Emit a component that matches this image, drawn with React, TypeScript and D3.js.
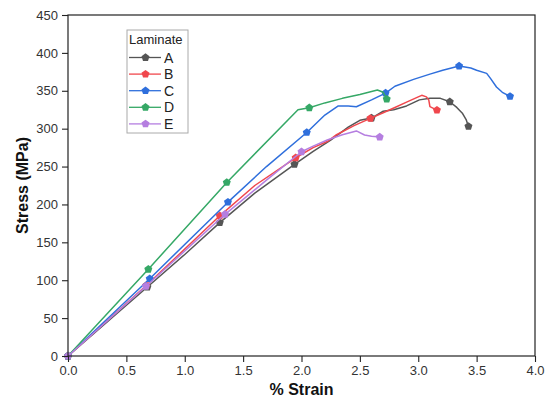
import React, { useEffect, useRef } from 'react';
import * as d3 from 'd3';

// strain (%) and stress (MPa), one pair of arrays per laminate
const strainA = [0, 0.68, 1.0, 1.3, 1.6, 1.94, 2.1, 2.25, 2.4, 2.5, 2.6, 2.7, 2.79, 2.9, 3.01, 3.1, 3.19, 3.27, 3.33, 3.38, 3.41, 3.43];
const stressA = [0, 91, 134, 176, 215, 253, 270, 285, 302, 311, 314, 323, 325, 330, 338, 340, 340, 335.5, 328, 320, 312, 303];
const markA = [0, 1, 3, 5, 10, 17, 21];

const strainB = [0, 0.67, 1.3, 1.6, 1.95, 2.1, 2.22, 2.3, 2.45, 2.59, 2.7, 2.8, 2.9, 3.0, 3.03, 3.07, 3.09, 3.1, 3.16];
const stressB = [0, 93, 185, 225, 261.6, 275, 283, 292, 304, 313.6, 321, 328, 335, 342, 344, 342, 338, 329, 324.5];
const markB = [0, 1, 2, 4, 9, 18];

const strainC = [0, 0.7, 1.37, 1.7, 2.045, 2.2, 2.315, 2.4, 2.47, 2.6, 2.72, 2.8, 2.96, 3.1, 3.21, 3.35, 3.45, 3.5, 3.586, 3.62, 3.67, 3.72, 3.786];
const stressC = [0, 102, 203, 250, 295, 318, 330, 330, 329, 338, 347, 356, 365, 372, 377, 382.6, 380, 377, 373, 366, 355, 348, 342.6];
const markC = [0, 1, 2, 4, 10, 15, 22];

const strainD = [0, 0.688, 1.36, 1.97, 2.067, 2.2, 2.35, 2.5, 2.6, 2.65, 2.7, 2.72, 2.73];
const stressD = [0, 114.5, 229, 325, 327.6, 334, 340, 345, 349, 351, 348, 342, 339];
const markD = [0, 1, 2, 4, 12];

const strainE = [0, 0.668, 1.345, 1.7, 2.0, 2.1, 2.22, 2.35, 2.47, 2.54, 2.6, 2.67];
const stressE = [0, 92, 187, 232, 269.5, 277, 285, 292, 297, 291.6, 290, 289];
const markE = [0, 1, 2, 4, 11];

const laminates = ['A', 'B', 'C', 'D', 'E'];
const colors = ['#555555', '#f0474d', '#2f6fdc', '#35a866', '#b57ee0'];

const xTicks = [0, 0.5, 1.0, 1.5, 2.0, 2.5, 3.0, 3.5, 4.0];
const yTicks = [0, 50, 100, 150, 200, 250, 300, 350, 400, 450];

const series = [
  { x: strainA, y: stressA, m: markA },
  { x: strainB, y: stressB, m: markB },
  { x: strainC, y: stressC, m: markC },
  { x: strainD, y: stressD, m: markD },
  { x: strainE, y: stressE, m: markE },
];

// pentagon marker like the Origin default
const pentagon = {
  draw(ctx: any, size: number) {
    const r = Math.sqrt(size / 2.378);
    for (let i = 0; i < 5; i++) {
      const a = -Math.PI / 2 + (i * 2 * Math.PI) / 5;
      const px = r * Math.cos(a);
      const py = r * Math.sin(a);
      if (i === 0) ctx.moveTo(px, py);
      else ctx.lineTo(px, py);
    }
    ctx.closePath();
  },
};

const App = () => {
  const svgRef = useRef<SVGSVGElement>(null);

  useEffect(() => {
    const svg = d3.select(svgRef.current);
    svg.selectAll('*').remove();

    const left = 68, right = 535, top = 15, bottom = 356;
    const font = 'Liberation Sans, Arial, sans-serif';

    const x = d3.scaleLinear().domain([0, 4]).range([left, right]);
    const y = d3.scaleLinear().domain([0, 450]).range([bottom, top]);

    const line = d3.line<number[]>()
      .x(d => x(d[0]))
      .y(d => y(d[1]));
    const marker = d3.symbol().type(pentagon as any).size(42);

    // curves
    series.forEach((s, i) => {
      const pts = s.x.map((v, j) => [v, s.y[j]]);
      svg.append('path')
        .datum(pts)
        .attr('fill', 'none')
        .attr('stroke', colors[i])
        .attr('stroke-width', 1.5)
        .attr('stroke-linejoin', 'round')
        .attr('d', line);
      svg.append('g')
        .selectAll('path')
        .data(s.m)
        .join('path')
        .attr('transform', j => `translate(${x(s.x[j])},${y(s.y[j])})`)
        .attr('d', marker)
        .attr('fill', colors[i]);
    });

    // frame
    svg.append('rect')
      .attr('x', left).attr('y', top)
      .attr('width', right - left).attr('height', bottom - top)
      .attr('fill', 'none').attr('stroke', '#222').attr('stroke-width', 1.2);

    // x axis
    const gx = svg.append('g').attr('transform', `translate(0,${bottom})`);
    gx.call(d3.axisBottom(x).tickValues(d3.range(0, 4.01, 0.25)).tickSize(3).tickFormat(() => ''));
    gx.call(d3.axisBottom(x).tickValues(xTicks).tickSize(6).tickPadding(4).tickFormat(d3.format('.1f')));
    gx.selectAll('.domain').remove();
    gx.selectAll('line').attr('stroke', '#222').attr('stroke-width', 1.1);
    gx.selectAll('text').attr('font-family', font).attr('font-size', 13).attr('fill', '#333');

    // y axis
    const gy = svg.append('g').attr('transform', `translate(${left},0)`);
    gy.call(d3.axisLeft(y).tickValues(d3.range(0, 451, 25)).tickSize(3).tickFormat(() => ''));
    gy.call(d3.axisLeft(y).tickValues(yTicks).tickSize(6).tickPadding(4).tickFormat(d3.format('d')));
    gy.selectAll('.domain').remove();
    gy.selectAll('line').attr('stroke', '#222').attr('stroke-width', 1.1);
    gy.selectAll('text').attr('font-family', font).attr('font-size', 13).attr('fill', '#333');

    // axis titles
    svg.append('text')
      .attr('x', (left + right) / 2)
      .attr('y', 395)
      .attr('text-anchor', 'middle')
      .attr('font-family', font).attr('font-weight', 'bold').attr('font-size', 16)
      .attr('fill', '#111')
      .text('% Strain');
    svg.append('text')
      .attr('transform', 'rotate(-90)')
      .attr('x', -(top + bottom) / 2)
      .attr('y', 28)
      .attr('text-anchor', 'middle')
      .attr('font-family', font).attr('font-weight', 'bold').attr('font-size', 16)
      .attr('fill', '#111')
      .text('Stress (MPa)');

    // legend
    const lg = svg.append('g');
    lg.append('rect')
      .attr('x', 127).attr('y', 30).attr('width', 61).attr('height', 103)
      .attr('fill', 'white').attr('stroke', '#aaa').attr('stroke-width', 1);
    lg.append('text')
      .attr('x', 129).attr('y', 44)
      .attr('font-family', font).attr('font-size', 13).attr('fill', '#222')
      .text('Laminate');
    laminates.forEach((name, i) => {
      const yy = 57.5 + i * 16.6;
      lg.append('line')
        .attr('x1', 129).attr('x2', 161).attr('y1', yy).attr('y2', yy)
        .attr('stroke', colors[i]).attr('stroke-width', 1.3);
      lg.append('path')
        .attr('transform', `translate(145.5,${yy})`)
        .attr('d', marker)
        .attr('fill', colors[i]);
      lg.append('text')
        .attr('x', 164).attr('y', yy + 5)
        .attr('font-family', font).attr('font-size', 14).attr('fill', '#222')
        .text(name);
    });
  }, []);

  return (
    <svg
      ref={svgRef}
      width={553}
      height={403}
      style={{ position: 'absolute', left: 0, top: 0, background: 'white' }}
    />
  );
};

export default App;
